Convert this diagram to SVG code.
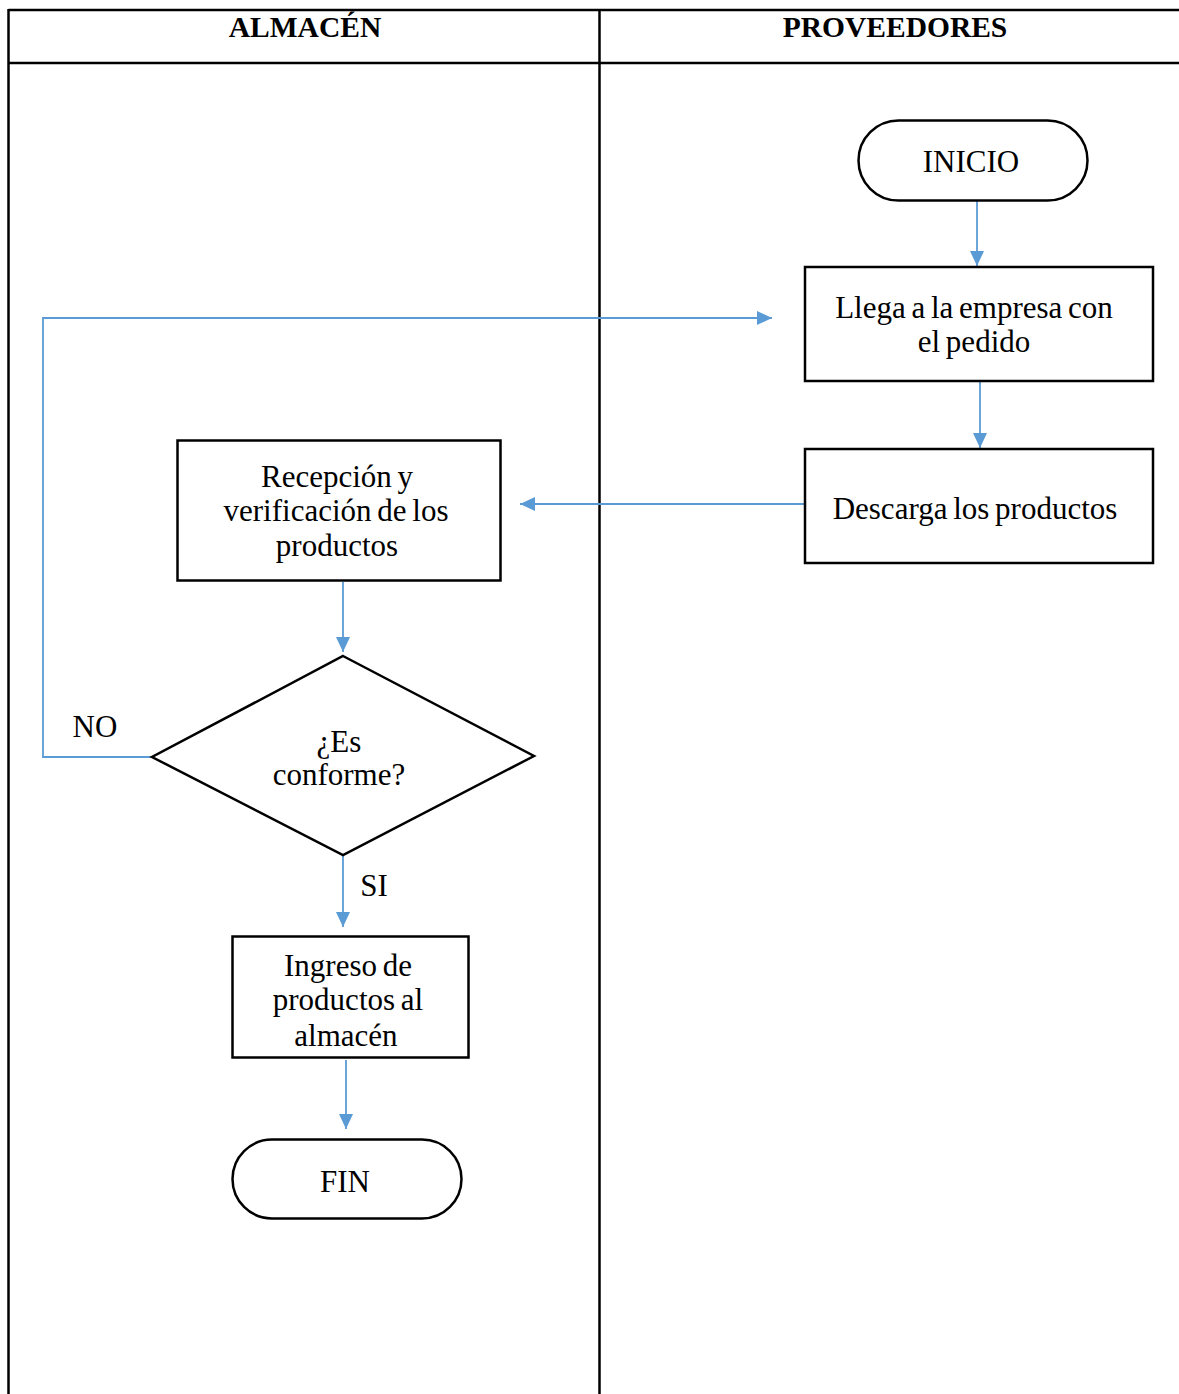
<svg xmlns="http://www.w3.org/2000/svg" width="1179" height="1394" viewBox="0 0 1179 1394">
<style>
.lane{stroke:#000;stroke-width:2.5;fill:none}
.box{fill:#fff;stroke:#000;stroke-width:2.5}
.t{font-family:"Liberation Serif","Times New Roman",serif;font-size:31px;fill:#000;text-anchor:middle;word-spacing:-2px}
.h{font-family:"Liberation Serif","Times New Roman",serif;font-size:29.5px;font-weight:bold;fill:#000;text-anchor:middle}
.c{stroke:#5b9bd5;stroke-width:1.8;fill:none;marker-end:url(#ah)}
</style>
<defs>
<marker id="ah" markerUnits="userSpaceOnUse" markerWidth="16" markerHeight="14" refX="15" refY="7" orient="auto">
<path d="M0,0 L15,7 L0,14 Z" fill="#5b9bd5"/>
</marker>
</defs>
<rect width="1179" height="1394" fill="#fff"/>
<g id="lanes">
<line class="lane" x1="8.5" y1="10" x2="1179" y2="10"/>
<line class="lane" x1="8.5" y1="63" x2="1179" y2="63"/>
<line class="lane" x1="8.5" y1="9" x2="8.5" y2="1394"/>
<line class="lane" x1="599.5" y1="9" x2="599.5" y2="1394"/>
<text class="h" x="305" y="37">ALMACÉN</text>
<text class="h" x="895" y="37">PROVEEDORES</text>
</g>
<g id="connectors">
<line class="c" x1="977" y1="201" x2="977" y2="266"/>
<line class="c" x1="980" y1="382" x2="980" y2="448"/>
<line class="c" x1="805" y1="504" x2="520" y2="504"/>
<line class="c" x1="343" y1="582" x2="343" y2="652"/>
<polyline class="c" points="152,757 43,757 43,318 772,318"/>
<line class="c" x1="343" y1="856" x2="343" y2="927"/>
<line class="c" x1="346" y1="1060" x2="346" y2="1129"/>
<text class="t" x="95" y="737">NO</text>
<text class="t" x="374" y="896">SI</text>
</g>
<g id="inicio">
<rect class="box" x="858.5" y="120.5" width="229" height="80" rx="40"/>
<text class="t" x="971" y="172">INICIO</text>
</g>
<g id="llega">
<rect class="box" x="805" y="267" width="348" height="114"/>
<text class="t" x="974" y="318">Llega a la empresa con</text>
<text class="t" x="974" y="352">el pedido</text>
</g>
<g id="descarga">
<rect class="box" x="805" y="449" width="348" height="114"/>
<text class="t" x="975" y="519">Descarga los productos</text>
</g>
<g id="recepcion">
<rect class="box" x="177.5" y="440.5" width="323" height="140"/>
<text class="t" x="337" y="487">Recepción y</text>
<text class="t" x="336" y="521">verificación de los</text>
<text class="t" x="337" y="556">productos</text>
</g>
<g id="conforme">
<polygon class="box" points="343,656 534,756 343,855 152,757"/>
<text class="t" x="339" y="752">¿Es</text>
<text class="t" x="339" y="785">conforme?</text>
</g>
<g id="ingreso">
<rect class="box" x="232.5" y="936.5" width="236" height="121"/>
<text class="t" x="348" y="976">Ingreso de</text>
<text class="t" x="348" y="1010">productos al</text>
<text class="t" x="346" y="1046">almacén</text>
</g>
<g id="fin">
<rect class="box" x="232.5" y="1139.5" width="229" height="79" rx="39.5"/>
<text class="t" x="345" y="1192">FIN</text>
</g>
</svg>
